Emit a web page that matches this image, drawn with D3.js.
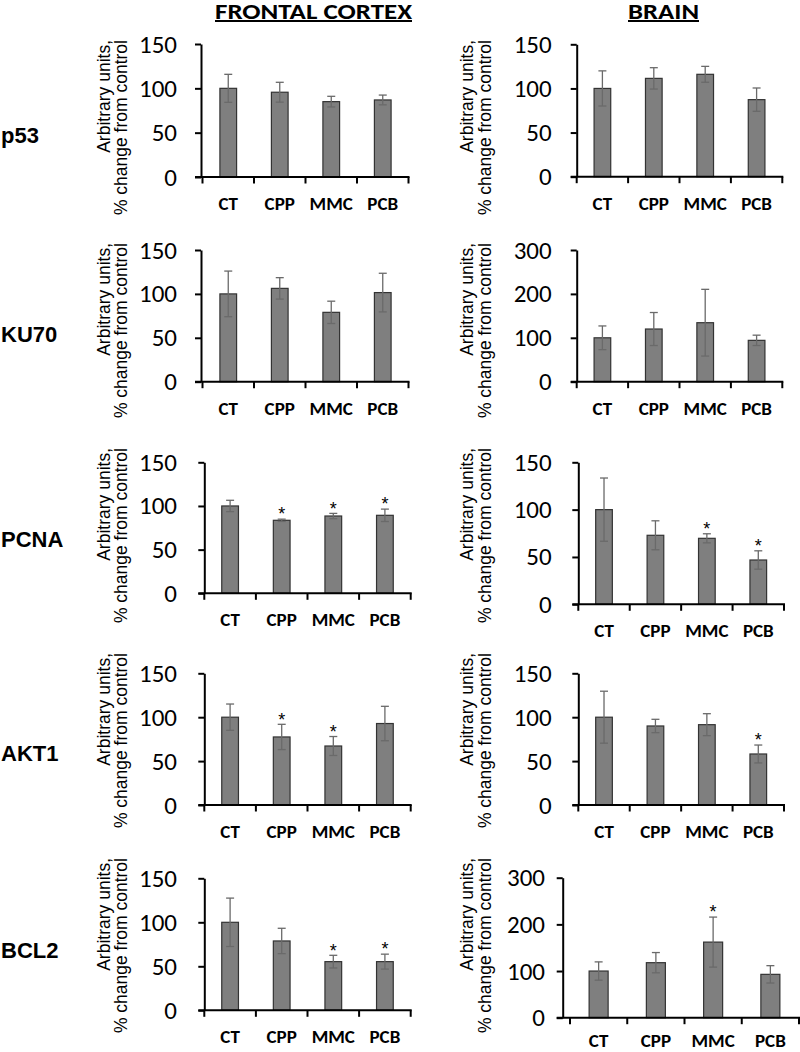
<!DOCTYPE html>
<html><head><meta charset="utf-8">
<script src="https://cdn.jsdelivr.net/npm/d3@7"></script>
<style>body{margin:0;background:#fff}</style>
</head><body>
<svg id="c" width="800" height="1052" xmlns="http://www.w3.org/2000/svg"></svg>
<script>
// ---------------- DATA ----------------
const categories = ["CT", "CPP", "MMC", "PCB"];
const proteins = ["p53", "KU70", "PCNA", "AKT1", "BCL2"];
const regionTitles = ["FRONTAL CORTEX", "BRAIN"];
const yAxisTitle1 = "Arbitrary units,";
const yAxisTitle2 = "% change from control";

// y-axis maxima and tick steps per row
const fcYMax = [150, 150, 150, 150, 150];
const fcYStep = [50, 50, 50, 50, 50];
const brainYMax = [150, 300, 150, 150, 300];
const brainYStep = [50, 100, 50, 50, 100];

// Frontal cortex: means, error (±), significance
const fcMean = [
  [100, 95.6, 85.0, 86.9],
  [100, 106.3, 79.0, 101.5],
  [100, 83.6, 88.5, 89.3],
  [100, 77.5, 67.2, 92.8],
  [100, 78.8, 55.3, 55.3]
];
const fcErr = [
  [15.8, 11.2, 6.0, 5.5],
  [26.0, 12.2, 12.7, 22.0],
  [6.5, 1.3, 3.0, 7.1],
  [15.0, 14.4, 10.8, 19.6],
  [27.5, 14.4, 7.2, 8.5]
];
const fcStar = [
  [0, 0, 0, 0],
  [0, 0, 0, 0],
  [0, 1, 1, 1],
  [0, 1, 1, 0],
  [0, 0, 1, 1]
];

// Brain: means, error (±), significance
const brainMean = [
  [100, 111.4, 116.0, 87.3],
  [100, 120.0, 134.4, 94.2],
  [100, 72.9, 69.7, 46.8],
  [100, 90.0, 91.5, 58.1],
  [100, 117.9, 162.0, 92.9]
];
const brainErr = [
  [19.9, 12.1, 9.0, 13.2],
  [27.0, 37.6, 76.0, 11.8],
  [33.4, 15.3, 4.8, 9.7],
  [29.6, 7.6, 12.5, 10.2],
  [19.6, 21.7, 53.6, 18.6]
];
const brainStar = [
  [0, 0, 0, 0],
  [0, 0, 0, 0],
  [0, 0, 1, 1],
  [0, 0, 0, 1],
  [0, 0, 1, 0]
];

// ---------------- LAYOUT ----------------
const layout = [
  { // left column
    axisX: [201, 201, 204.3, 204.3, 204.3],
    bandStart: [202.5, 202.5, 204.3, 204.3, 204.3],
    bandEnd: [408.5, 408.5, 410.7, 410.7, 410.7],
    top: [44, 250, 462.3, 673.3, 878.3],
    zero: [177, 381.7, 593.3, 805, 1010.3],
    labelRight: [177, 177, 177, 177, 177],
    title1X: 109.5, title2X: 126.5,
    headerX: 313.5, headerW: 197
  },
  { // right column
    axisX: [576.7, 576.7, 578.3, 578.3, 562.7],
    bandStart: [576.7, 576.7, 578.3, 578.3, 570],
    bandEnd: [782.3, 782.3, 784, 784, 799],
    top: [44.3, 250, 462.3, 673.3, 877.7],
    zero: [176.7, 381.7, 604.3, 805, 1017.7],
    labelRight: [551.7, 551.7, 551.7, 551.7, 545],
    title1X: 472.5, title2X: 490.5,
    headerX: 663.5, headerW: 71
  }
];
const titleTop = [40, 243, 448, 653, 858];
const rowLabelBaseline = [143, 342, 547, 761, 958];

const svg = d3.select("#c");
const numFont = "Carlito, Calibri, Lato, sans-serif";
const arialFont = "'Liberation Sans', Arial, sans-serif";

// headers
regionTitles.forEach((t, c) => {
  svg.append("text")
    .attr("x", layout[c].headerX).attr("y", 18.5)
    .attr("text-anchor", "middle")
    .attr("font-family", numFont).attr("font-weight", "bold")
    .attr("font-size", 21.5).attr("fill", "#000")
    .attr("textLength", layout[c].headerW).attr("lengthAdjust", "spacingAndGlyphs")
    .text(t);
  svg.append("line")
    .attr("x1", layout[c].headerX - layout[c].headerW / 2)
    .attr("x2", layout[c].headerX + layout[c].headerW / 2)
    .attr("y1", 21).attr("y2", 21)
    .attr("stroke", "#000").attr("stroke-width", 2);
});

// row labels
proteins.forEach((p, r) => {
  svg.append("text")
    .attr("x", 1).attr("y", rowLabelBaseline[r])
    .attr("font-family", arialFont).attr("font-weight", "bold")
    .attr("font-size", 22).attr("fill", "#000").text(p);
});

function drawPanel(c, r, means, errs, stars, yMax, yStep) {
  const L = layout[c];
  const g = svg.append("g");
  const y = d3.scaleLinear().domain([0, yMax]).range([L.zero[r], L.top[r]]);
  const wide = (c === 1 && r === 4);
  const x = d3.scaleBand().domain(categories)
    .range([L.bandStart[r], L.bandEnd[r]])
    .paddingInner(wide ? 0.668 : 0.676)
    .paddingOuter(wide ? 0.334 : 0.338);

  // bars
  g.selectAll("rect.bar").data(categories).enter().append("rect")
    .attr("x", d => x(d))
    .attr("width", x.bandwidth())
    .attr("y", (d, i) => y(means[i]))
    .attr("height", (d, i) => y(0) - y(means[i]))
    .attr("fill", "#7f7f7f")
    .attr("stroke", "#333").attr("stroke-width", 1.2);

  // error bars
  const cx = d => x(d) + x.bandwidth() / 2;
  const eg = g.selectAll("g.err").data(categories).enter().append("g")
    .attr("stroke", "#6a6a6a").attr("stroke-width", 1.3);
  eg.append("line")
    .attr("x1", cx).attr("x2", cx)
    .attr("y1", (d, i) => y(means[i] - errs[i])).attr("y2", (d, i) => y(means[i] + errs[i]));
  eg.append("line")
    .attr("x1", d => cx(d) - 4).attr("x2", d => cx(d) + 4)
    .attr("y1", (d, i) => y(means[i] + errs[i])).attr("y2", (d, i) => y(means[i] + errs[i]));
  eg.append("line")
    .attr("x1", d => cx(d) - 4).attr("x2", d => cx(d) + 4)
    .attr("y1", (d, i) => y(means[i] - errs[i])).attr("y2", (d, i) => y(means[i] - errs[i]));

  // significance stars
  g.selectAll("text.star").data(categories.filter((d, i) => stars[i])).enter().append("text")
    .attr("x", cx)
    .attr("y", d => { const i = categories.indexOf(d); return y(means[i] + errs[i]) - 9 + 0.57 * 18; })
    .attr("text-anchor", "middle")
    .attr("font-family", arialFont).attr("font-size", 18).attr("fill", "#000")
    .text("*");

  // y axis
  const yAxis = d3.axisLeft(y).tickValues(d3.range(0, yMax + 1, yStep)).tickSize(6).tickSizeOuter(0)
    .tickPadding(L.axisX[r] - L.labelRight[r] - 6);
  const ya = g.append("g").attr("transform", `translate(${L.axisX[r]},0)`).call(yAxis);
  ya.select(".domain").attr("stroke", "#000").attr("stroke-width", 2);
  ya.selectAll(".tick line").attr("stroke", "#000").attr("stroke-width", 2);
  ya.selectAll(".tick text").attr("font-family", numFont).attr("font-size", 25).attr("fill", "#000");

  // x axis line + boundary ticks
  g.append("line")
    .attr("x1", L.axisX[r] - 6).attr("x2", L.bandEnd[r] + 1)
    .attr("y1", y(0)).attr("y2", y(0))
    .attr("stroke", "#000").attr("stroke-width", 2);
  const bounds = categories.map(d => x(d) - x.step() * x.paddingInner() / 2).concat([L.bandEnd[r]]);
  bounds[0] = L.bandStart[r];
  g.selectAll("line.xt").data(bounds).enter().append("line")
    .attr("x1", d => d).attr("x2", d => d)
    .attr("y1", y(0)).attr("y2", y(0) + 6.5)
    .attr("stroke", "#000").attr("stroke-width", 2);

  // category labels
  const xAxis = d3.axisBottom(x).tickSize(0).tickPadding(0);
  const xa = g.append("g").attr("transform", `translate(0,${y(0)})`).call(xAxis);
  xa.select(".domain").remove();
  xa.selectAll(".tick text").attr("y", wide ? 29.5 : 33).attr("dy", null)
    .attr("font-family", numFont).attr("font-weight", "bold")
    .attr("font-size", 19).attr("fill", "#000");

  // y-axis title (two rotated lines, top-aligned)
  [[yAxisTitle1, L.title1X], [yAxisTitle2, L.title2X]].forEach(([t, bx]) => {
    svg.append("text")
      .attr("transform", `translate(${bx},${titleTop[r]}) rotate(-90)`)
      .attr("text-anchor", "end")
      .attr("font-family", arialFont).attr("font-size", 17.5).attr("fill", "#000")
      .text(t);
  });
}

proteins.forEach((p, r) => {
  drawPanel(0, r, fcMean[r], fcErr[r], fcStar[r], fcYMax[r], fcYStep[r]);
  drawPanel(1, r, brainMean[r], brainErr[r], brainStar[r], brainYMax[r], brainYStep[r]);
});
</script>
</body></html>
